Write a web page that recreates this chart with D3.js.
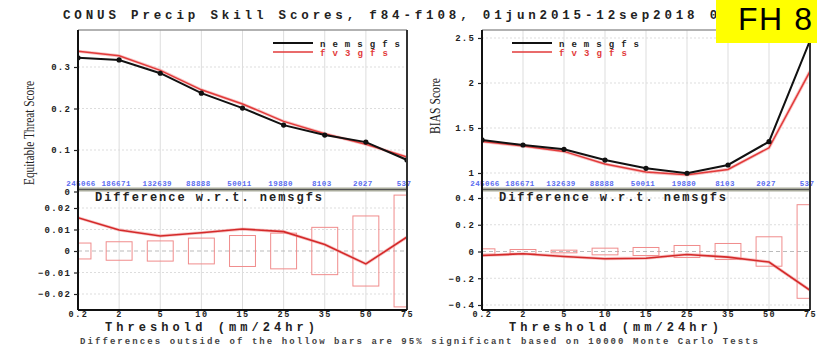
<!DOCTYPE html>
<html><head><meta charset="utf-8">
<script src="https://cdn.jsdelivr.net/npm/d3@7"></script>
<style>
body{margin:0;background:#fff;}
svg{display:block;}
.mono{font-family:"Liberation Mono","DejaVu Sans Mono",monospace;font-weight:bold;}
</style></head><body>
<svg id="c" width="817" height="353"></svg>
<script>
const categories = ["0.2","2","5","10","15","25","35","50","75"];
const sampleCounts = ["245066","186671","132639","88888","50011","19880","8103","2027","537"];
const etsNems = [0.322,0.317,0.285,0.237,0.201,0.160,0.136,0.119,0.076];
const etsFv3  = [0.338,0.327,0.292,0.245,0.211,0.169,0.139,0.114,0.083];
const etsDiff = [0.0155,0.0098,0.0070,0.0085,0.0102,0.0090,0.0030,-0.0060,0.0065];
const etsBar  = [0.0037,0.0043,0.0047,0.0060,0.0072,0.0083,0.0110,0.0163,0.0260];
const biasNems = [1.367,1.311,1.263,1.144,1.052,0.997,1.089,1.348,2.47];
const biasFv3  = [1.350,1.300,1.240,1.100,1.010,0.980,1.040,1.280,2.13];
const biasDiff = [-0.030,-0.017,-0.037,-0.054,-0.050,-0.022,-0.042,-0.079,-0.29];
const biasBar  = [0.020,0.015,0.010,0.025,0.030,0.045,0.060,0.110,0.350];
const etsTicks = [0,0.1,0.2,0.3];
const etsTickLabels = ["0","0.1","0.2","0.3"];
const biasTicks = [1,1.5,2,2.5];
const biasTickLabels = ["1","1.5","2","2.5"];
const etsDiffTicks = [-0.02,-0.01,0,0.01,0.02];
const etsDiffTickLabels = ["\u22120.02","\u22120.01","0","0.01","0.02"];
const biasDiffTicks = [-0.4,-0.2,0,0.2,0.4];
const biasDiffTickLabels = ["\u22120.4","\u22120.2","0","0.2","0.4"];
const seriesNames = ["nemsgfs","fv3gfs"];
const titleText = "CONUS Precip Skill Scores, f84-f108, 01jun2015-12sep2018 00Z";

const svg = d3.select("#c");
const BLACK = "#111", RED = "#e23a3a", BOXRED = "#f08c8c", GRID = "#dddddd";

const panels = [
  {x0:78, x1:407, yl:"Equitable Threat Score", ylx:34, yly:133, ylLen:104,
   top:{dom:[0.1,0.3], rng:[150,67], a:etsNems, b:etsFv3, ticks:etsTicks, labels:etsTickLabels},
   bot:{dom:[-0.02,0.02], rng:[294,208], d:etsDiff, bar:etsBar, ticks:etsDiffTicks, labels:etsDiffTickLabels},
   legX:273},
  {x0:482, x1:810, yl:"BIAS Score", ylx:440, yly:106, ylLen:56,
   top:{dom:[1,2.5], rng:[173,38], a:biasNems, b:biasFv3, ticks:biasTicks, labels:biasTickLabels},
   bot:{dom:[-0.4,0.4], rng:[305,198], d:biasDiff, bar:biasBar, ticks:biasDiffTicks, labels:biasDiffTickLabels},
   legX:512}
];
const TOP0=30, TOP1=190, BOT0=190, BOT1=310;

panels.forEach((p,pi)=>{
  const x = d3.scalePoint().domain(categories).range([p.x0,p.x1]);
  const yT = d3.scaleLinear().domain(p.top.dom).range(p.top.rng);
  const yB = d3.scaleLinear().domain(p.bot.dom).range(p.bot.rng);
  const g = svg.append("g");
  const cid = "clipT"+pi, cidB="clipB"+pi;
  svg.append("clipPath").attr("id",cid).append("rect").attr("x",p.x0).attr("y",TOP0).attr("width",p.x1-p.x0).attr("height",TOP1-TOP0);
  svg.append("clipPath").attr("id",cidB).append("rect").attr("x",p.x0).attr("y",BOT0).attr("width",p.x1-p.x0).attr("height",BOT1-BOT0);

  // grid
  g.selectAll(".vg").data(categories).enter().append("line")
    .attr("x1",d=>x(d)).attr("x2",d=>x(d)).attr("y1",TOP0).attr("y2",BOT1)
    .attr("stroke",GRID).attr("stroke-width",1);
  p.top.ticks.forEach(t=>{ if(yT(t)>TOP0 && yT(t)<TOP1) g.append("line").attr("x1",p.x0).attr("x2",p.x1).attr("y1",yT(t)).attr("y2",yT(t)).attr("stroke",GRID).attr("stroke-dasharray","2,2");});
  p.bot.ticks.forEach(t=>{ g.append("line").attr("x1",p.x0).attr("x2",p.x1).attr("y1",yB(t)).attr("y2",yB(t)).attr("stroke",t===0?"#bbb":GRID).attr("stroke-dasharray",t===0?"4,3":"2,2");});

  // top lines
  const lineT = d3.line().x((d,i)=>x(categories[i])).y(d=>yT(d));
  const gt = g.append("g").attr("clip-path",`url(#${cid})`);
  gt.append("path").attr("d",lineT(p.top.b)).attr("fill","none").attr("stroke","#f4a0a0").attr("stroke-width",3.2).attr("opacity",0.6);
  gt.append("path").attr("d",lineT(p.top.b)).attr("fill","none").attr("stroke",RED).attr("stroke-width",1.5);
  gt.append("path").attr("d",lineT(p.top.a)).attr("fill","none").attr("stroke",BLACK).attr("stroke-width",2);
  gt.selectAll(".pt").data(p.top.a).enter().append("circle")
    .attr("cx",(d,i)=>x(categories[i])).attr("cy",d=>yT(d)).attr("r",2.6).attr("fill",BLACK);

  // sample counts
  g.selectAll(".cnt").data(sampleCounts).enter().append("text")
    .attr("x",(d,i)=>x(categories[i])-3 + (i===0?6:0)).attr("y",186).attr("text-anchor","middle")
    .attr("class","mono").attr("font-size",7.5).attr("letter-spacing",0.4).attr("fill","#5a6cf0").text(d=>d);

  // bottom
  const gb = g.append("g").attr("clip-path",`url(#${cidB})`);
  const bw = x.step()*0.63;
  gb.selectAll(".box").data(p.bot.bar).enter().append("rect")
    .attr("x",(d,i)=>x(categories[i])-bw/2).attr("width",bw)
    .attr("y",d=>yB(d)).attr("height",d=>yB(-d)-yB(d))
    .attr("fill","none").attr("stroke",BOXRED).attr("stroke-width",1);
  const lineB = d3.line().x((d,i)=>x(categories[i])).y(d=>yB(d));
  gb.append("path").attr("d",lineB(p.bot.d)).attr("fill","none").attr("stroke","#f4a0a0").attr("stroke-width",3.2).attr("opacity",0.6);
  gb.append("path").attr("d",lineB(p.bot.d)).attr("fill","none").attr("stroke","#d42a2a").attr("stroke-width",1.6);

  // frame
  g.append("line").attr("x1",p.x0).attr("x2",p.x1).attr("y1",TOP0).attr("y2",TOP0).attr("stroke","#999").attr("stroke-width",1.5);
  g.append("rect").attr("x",p.x0).attr("y",187.5).attr("width",p.x1-p.x0).attr("height",4).attr("fill","#a9ab9c");
  g.append("line").attr("x1",p.x0).attr("x2",p.x1).attr("y1",189.5).attr("y2",189.5).attr("stroke","#555").attr("stroke-width",1.2);
  g.append("line").attr("x1",p.x0).attr("x2",p.x0).attr("y1",TOP0).attr("y2",BOT1).attr("stroke",BLACK).attr("stroke-width",2);
  g.append("line").attr("x1",p.x1).attr("x2",p.x1).attr("y1",TOP0).attr("y2",BOT1).attr("stroke","#333").attr("stroke-width",2);
  g.append("line").attr("x1",p.x0).attr("x2",p.x1).attr("y1",BOT1).attr("y2",BOT1).attr("stroke",BLACK).attr("stroke-width",2);

  // y axes
  const axT = d3.axisLeft(yT).tickValues(p.top.ticks).tickFormat((d,i)=>p.top.labels[i]).tickSize(4).tickPadding(3);
  const aT = g.append("g").attr("transform",`translate(${p.x0},0)`).call(axT);
  aT.select(".domain").remove();
  const axB = d3.axisLeft(yB).tickValues(p.bot.ticks).tickFormat((d,i)=>p.bot.labels[i]).tickSize(4).tickPadding(3);
  const aB = g.append("g").attr("transform",`translate(${p.x0},0)`).call(axB);
  aB.select(".domain").remove();
  [aT,aB].forEach(a=>{
    a.selectAll("text").attr("class","mono").attr("font-size",9).attr("letter-spacing",1.2).attr("fill","#222");
    a.selectAll("line").attr("stroke","#222").attr("stroke-width",1.2);
  });
  // x axis
  const axX = d3.axisBottom(x).tickSize(0).tickPadding(1);
  const aX = g.append("g").attr("transform",`translate(0,${BOT1})`).call(axX);
  aX.select(".domain").remove();
  aX.selectAll("text").attr("class","mono").attr("font-size",8.5).attr("letter-spacing",1.5).attr("fill","#222");

  // y label
  g.append("text").attr("transform",`translate(${p.ylx},${p.yly}) rotate(-90)`)
    .attr("text-anchor","middle").attr("font-family","Liberation Serif, serif").attr("font-size",14)
    .attr("textLength",p.ylLen).attr("lengthAdjust","spacingAndGlyphs").attr("fill","#222").text(p.yl);

  // legend
  g.append("line").attr("x1",p.legX).attr("x2",p.legX+40).attr("y1",43).attr("y2",43).attr("stroke",BLACK).attr("stroke-width",2);
  g.append("line").attr("x1",p.legX).attr("x2",p.legX+40).attr("y1",52).attr("y2",52).attr("stroke",RED).attr("stroke-width",1.5);
  g.append("text").attr("x",p.legX+47).attr("y",46.5).attr("class","mono").attr("font-size",9)
    .attr("textLength",80).attr("lengthAdjust","spacing").attr("fill","#222").text(seriesNames[0]);
  g.append("text").attr("x",p.legX+47).attr("y",55.5).attr("class","mono").attr("font-size",9)
    .attr("textLength",68).attr("lengthAdjust","spacing").attr("fill",RED).text(seriesNames[1]);

  // difference label
  g.append("text").attr("x",p.x0+17).attr("y",201).attr("class","mono").attr("font-size",12)
    .attr("textLength",227).attr("lengthAdjust","spacing").attr("fill","#222").text("Difference w.r.t. nemsgfs");

  // threshold label
  g.append("text").attr("x",p.x0+27).attr("y",331).attr("class","mono").attr("font-size",12)
    .attr("textLength",210).attr("lengthAdjust","spacing").attr("fill","#222").text("Threshold (mm/24hr)");
});

// title
svg.append("text").attr("x",63).attr("y",19).attr("class","mono").attr("font-size",12.5)
  .attr("textLength",677).attr("lengthAdjust","spacing").attr("fill","#222").text(titleText);
// footnote
svg.append("text").attr("x",80).attr("y",344).attr("font-family","Liberation Mono, monospace").attr("font-weight","bold").attr("font-size",9)
  .attr("textLength",678).attr("lengthAdjust","spacing").attr("fill","#444")
  .text("Differences outside of the hollow bars are 95% significant based on 10000 Monte Carlo Tests");

// FH box
svg.append("rect").attr("x",716).attr("y",0).attr("width",101).attr("height",43).attr("fill","#ffff00");
svg.append("text").attr("x",738).attr("y",29.5).attr("font-family","Liberation Sans, Arial, sans-serif").attr("font-size",32)
  .attr("textLength",74).attr("lengthAdjust","spacing").attr("fill","#000").text("FH 8");
</script>
</body></html>
